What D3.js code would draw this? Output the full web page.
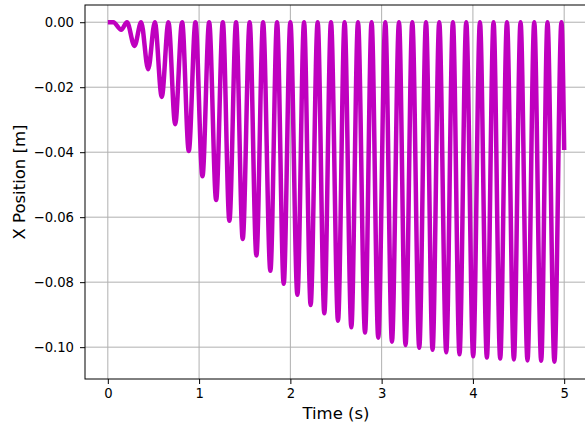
<!DOCTYPE html>
<html lang="en">
  <head>
    <meta charset="UTF-8" />
    <title>X Position vs Time</title>
    <script src="https://d3js.org/d3.v7.min.js"></script>
    <style>
      body { margin: 0; background: #fff; }
      svg { display: block; font-family: "DejaVu Sans", sans-serif; }
    </style>
  </head>
  <body>
    <svg id="chart" width="585" height="430"></svg>

    <script>
      // extrema: troughs (time, position) and the peaks between them (at 0)
      const troughTimes = [
        0.147, 0.292, 0.442, 0.591, 0.738, 0.887, 1.037, 1.187, 1.332, 1.478,
        1.628, 1.781, 1.927, 2.077, 2.222, 2.372, 2.522, 2.668, 2.818, 2.963,
        3.113, 3.262, 3.412, 3.558, 3.708, 3.853, 4.003, 4.153, 4.299, 4.449,
        4.598, 4.748, 4.893,
      ];
      const troughValues = [
        -0.0023, -0.0073, -0.0145, -0.023, -0.0314, -0.0396, -0.0474, -0.0547,
        -0.0611, -0.0667, -0.0718, -0.0765, -0.0805, -0.0839, -0.087, -0.0896,
        -0.0919, -0.0939, -0.0955, -0.0971, -0.0983, -0.0993, -0.1002, -0.1008,
        -0.1016, -0.1022, -0.1028, -0.1032, -0.1035, -0.1038, -0.1041, -0.1042,
        -0.1045,
      ];
      const peakTimes = [
        0.21, 0.365, 0.515, 0.664, 0.814, 0.96, 1.11, 1.26, 1.405, 1.554,
        1.701, 1.854, 2.0, 2.15, 2.299, 2.445, 2.594, 2.741, 2.89, 3.04,
        3.19, 3.336, 3.486, 3.631, 3.781, 3.927, 4.077, 4.226, 4.373, 4.522,
        4.672, 4.817, 4.97,
      ];
      const startTimes = [0, 0.06];
      const startValues = [0, 0];
      const endTime = 5.0;
      const endValue = -0.0393;

      const xTicks = [0, 1, 2, 3, 4, 5];
      const yTicks = [0, -0.02, -0.04, -0.06, -0.08, -0.1];

      const points = [];
      startTimes.forEach((t, i) => points.push({ t: t, v: startValues[i] }));
      troughTimes.forEach((t, i) => {
        points.push({ t: t, v: troughValues[i] });
        points.push({ t: peakTimes[i], v: 0 });
      });
      points.push({ t: endTime, v: endValue });

      const svg = d3.select("#chart"),
        margin = { top: 5, left: 85 },
        width = 502,
        height = 374,
        chart = svg
          .append("g")
          .attr("transform", `translate(${margin.left},${margin.top})`);

      const x = d3.scaleLinear().domain([-0.25, 5.25]).range([0, width]);
      const y = d3.scaleLinear().domain([0.0053, -0.1098]).range([0, height]);

      // grid
      chart
        .append("g")
        .selectAll("line")
        .data(xTicks)
        .enter()
        .append("line")
        .attr("x1", (d) => x(d))
        .attr("x2", (d) => x(d))
        .attr("y1", 0)
        .attr("y2", height)
        .attr("stroke", "#b0b0b0")
        .attr("stroke-width", 1);

      chart
        .append("g")
        .selectAll("line")
        .data(yTicks)
        .enter()
        .append("line")
        .attr("x1", 0)
        .attr("x2", width)
        .attr("y1", (d) => y(d))
        .attr("y2", (d) => y(d))
        .attr("stroke", "#b0b0b0")
        .attr("stroke-width", 1);

      chart
        .append("clipPath")
        .attr("id", "clip")
        .append("rect")
        .attr("width", width)
        .attr("height", height);

      const line = d3
        .line()
        .x((d) => x(d.t))
        .y((d) => y(d.v))
        .curve(d3.curveMonotoneX);

      chart
        .append("path")
        .datum(points)
        .attr("clip-path", "url(#clip)")
        .attr("fill", "none")
        .attr("stroke", "#bf00bf")
        .attr("stroke-width", 4.5)
        .attr("stroke-linejoin", "round")
        .attr("d", line);

      // axes
      const xAxis = chart
        .append("g")
        .attr("transform", `translate(0,${height})`)
        .call(
          d3.axisBottom(x).tickValues(xTicks).tickFormat(d3.format("d")).tickSize(5).tickPadding(5)
        );
      const yAxis = chart
        .append("g")
        .call(
          d3.axisLeft(y).tickValues(yTicks).tickFormat(d3.format(".2f")).tickSize(5).tickPadding(6)
        );

      [xAxis, yAxis].forEach((a) => {
        a.select(".domain").remove();
        a.selectAll("line").attr("stroke", "#000").attr("stroke-width", 1);
        a.selectAll("text")
          .attr("fill", "#000")
          .style("font-size", "13.2px")
          .style("font-family", "DejaVu Sans, sans-serif");
      });

      // frame
      chart
        .append("rect")
        .attr("x", 0)
        .attr("y", 0)
        .attr("width", width)
        .attr("height", height)
        .attr("fill", "none")
        .attr("stroke", "#000")
        .attr("stroke-width", 1);

      svg
        .append("text")
        .attr("x", margin.left + width / 2)
        .attr("y", 419)
        .attr("text-anchor", "middle")
        .style("font-size", "16.5px")
        .text("Time (s)");

      svg
        .append("text")
        .attr("transform", "translate(25,182) rotate(-90)")
        .attr("text-anchor", "middle")
        .style("font-size", "16.5px")
        .text("X Position [m]");
    </script>
  </body>
</html>
